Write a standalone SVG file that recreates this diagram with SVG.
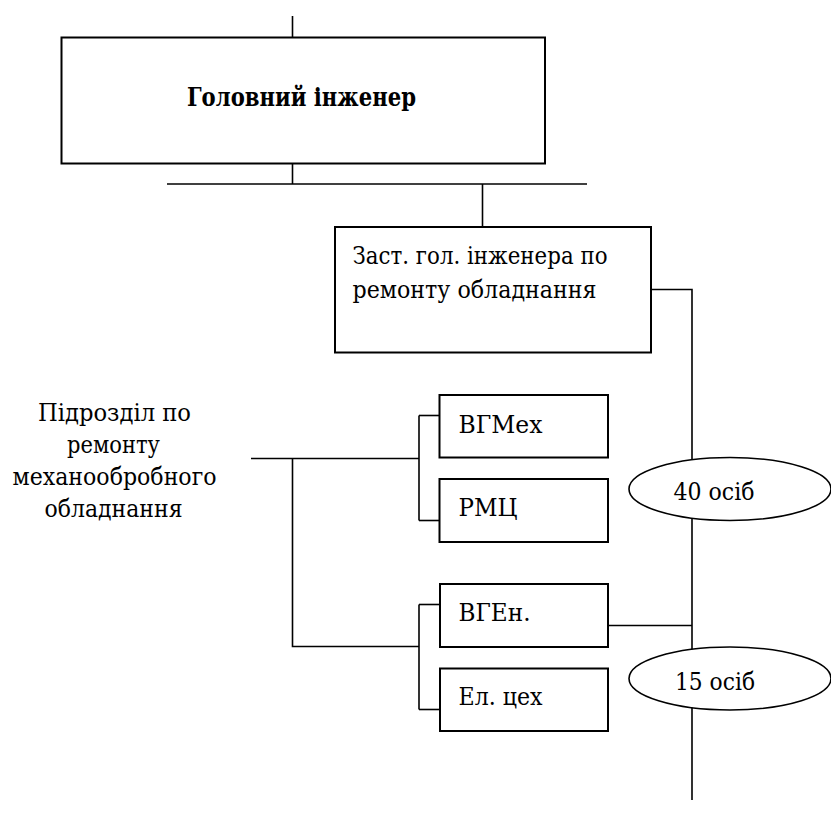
<svg xmlns="http://www.w3.org/2000/svg" width="831" height="831" viewBox="0 0 831 831">
<style>
.box{fill:#fff;stroke:#000;stroke-width:2}
.ell{fill:#fff;stroke:#000;stroke-width:1.6}
.ln{fill:none;stroke:#000;stroke-width:1.6}
.t{font-family:"DejaVu Serif","Liberation Serif",serif;font-size:24.5px;fill:#000}
.b{font-weight:bold;font-size:26px}
</style>
<rect width="831" height="831" fill="#fff"/>
<g id="connectors">
<path class="ln" d="M292.5 16 V37"/>
<path class="ln" d="M292.5 164 V184"/>
<path class="ln" d="M167 184 H587"/>
<path class="ln" d="M482.5 184 V227"/>
<path class="ln" d="M651 289.5 H692 V800"/>
<path class="ln" d="M251 458.5 H419"/>
<path class="ln" d="M419 415.5 V520.5"/>
<path class="ln" d="M419 415.5 H439"/>
<path class="ln" d="M419 520.5 H439"/>
<path class="ln" d="M292.5 458.5 V646.5 H419"/>
<path class="ln" d="M419 604.5 V709.5"/>
<path class="ln" d="M419 604.5 H440"/>
<path class="ln" d="M419 709.5 H440"/>
<path class="ln" d="M608 625.5 H692"/>
</g>
<g id="chief">
<rect class="box" x="61.5" y="37.5" width="483.5" height="126"/>
<text class="t b" x="187" y="106" textLength="229" lengthAdjust="spacingAndGlyphs">Головний інженер</text>
</g>
<g id="deputy">
<rect class="box" x="335" y="227" width="316" height="125.5"/>
<text class="t" x="352.5" y="264" textLength="255" lengthAdjust="spacingAndGlyphs">Заст. гол. інженера по</text>
<text class="t" x="352.5" y="297.5" textLength="244" lengthAdjust="spacingAndGlyphs">ремонту обладнання</text>
</g>
<g id="subdivision-label">
<text class="t" x="38" y="421" textLength="153" lengthAdjust="spacingAndGlyphs">Підрозділ по</text>
<text class="t" x="67" y="453" textLength="93" lengthAdjust="spacingAndGlyphs">ремонту</text>
<text class="t" x="12.5" y="485" textLength="204" lengthAdjust="spacingAndGlyphs">механообробного</text>
<text class="t" x="44.5" y="517" textLength="138" lengthAdjust="spacingAndGlyphs">обладнання</text>
</g>
<g id="vgmech">
<rect class="box" x="439.5" y="395" width="168.5" height="62.5"/>
<text class="t" x="458.5" y="432.5" textLength="84" lengthAdjust="spacingAndGlyphs">ВГМех</text>
</g>
<g id="rmc">
<rect class="box" x="439.5" y="479" width="168.5" height="63"/>
<text class="t" x="458.5" y="516" textLength="59" lengthAdjust="spacingAndGlyphs">РМЦ</text>
</g>
<g id="vgen">
<rect class="box" x="440" y="584" width="168" height="63"/>
<text class="t" x="458.5" y="620.5" textLength="72" lengthAdjust="spacingAndGlyphs">ВГЕн.</text>
</g>
<g id="elshop">
<rect class="box" x="440" y="668.5" width="168" height="62.5"/>
<text class="t" x="458.5" y="705" textLength="84" lengthAdjust="spacingAndGlyphs">Ел. цех</text>
</g>
<g id="count40">
<ellipse class="ell" cx="730" cy="489" rx="101" ry="31.5"/>
<text class="t" x="673.5" y="500" textLength="81" lengthAdjust="spacingAndGlyphs">40 осіб</text>
</g>
<g id="count15">
<ellipse class="ell" cx="730" cy="678.5" rx="101" ry="31.5"/>
<text class="t" x="675" y="690" textLength="80" lengthAdjust="spacingAndGlyphs">15 осіб</text>
</g>
</svg>
